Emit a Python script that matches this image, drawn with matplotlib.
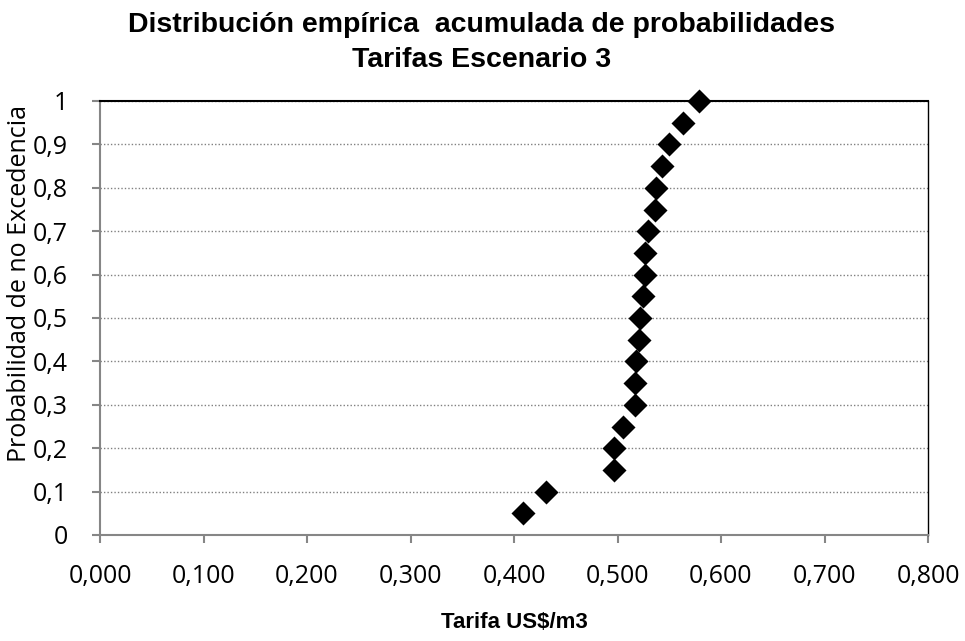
import matplotlib.pyplot as plt
from matplotlib.ticker import FuncFormatter

# Tarifas (US$/m3) y probabilidad de no excedencia
tarifa = [0.409, 0.431, 0.497, 0.497, 0.505, 0.517, 0.517, 0.518, 0.521, 0.522,
          0.525, 0.527, 0.527, 0.529, 0.536, 0.537, 0.543, 0.550, 0.563, 0.579]
prob = [0.05, 0.10, 0.15, 0.20, 0.25, 0.30, 0.35, 0.40, 0.45, 0.50,
        0.55, 0.60, 0.65, 0.70, 0.75, 0.80, 0.85, 0.90, 0.95, 1.00]

x_ticks = [0.0, 0.1, 0.2, 0.3, 0.4, 0.5, 0.6, 0.7, 0.8]
y_ticks = [0, 0.1, 0.2, 0.3, 0.4, 0.5, 0.6, 0.7, 0.8, 0.9, 1.0]

W, H = 965, 641
fig = plt.figure(figsize=(W / 100, H / 100), dpi=100)
ax = fig.add_axes([100 / W, 1 - 535 / H, 828 / W, 434 / H])

ax.scatter(tarifa, prob, marker="D", s=150, color="black", zorder=5,
           linewidths=0, clip_on=False)

ax.set_xlim(0, 0.8)
ax.set_ylim(0, 1)
ax.set_xticks(x_ticks)
ax.set_yticks(y_ticks)
ax.xaxis.set_major_formatter(FuncFormatter(lambda v, p: f"{v:.3f}".replace(".", ",")))
ax.yaxis.set_major_formatter(FuncFormatter(lambda v, p: f"{v:g}".replace(".", ",")))

ax.grid(axis="y", linestyle=(0, (1, 1.5)), color="#808080", linewidth=1)
ax.set_axisbelow(True)

for s in ["left", "bottom"]:
    ax.spines[s].set_color("#868686")
    ax.spines[s].set_linewidth(1.5)
ax.spines["top"].set_color("black")
ax.spines["top"].set_linewidth(1.5)
ax.spines["right"].set_color("black")
ax.spines["right"].set_linewidth(1)

ax.tick_params(axis="both", direction="out", length=6, width=1.5, color="#868686",
               labelsize=18)
ax.tick_params(axis="x", pad=15)
ax.tick_params(axis="y", pad=17)
for lab in ax.get_xticklabels() + ax.get_yticklabels():
    lab.set_family("Open Sans")

# titulos de ejes (posicion como en el grafico de Excel)
fig.text(514 / W, 1 - 623 / H, "Tarifa US$/m3", fontsize=16, fontweight="bold",
         family="Liberation Sans", ha="center", va="center")
fig.text(20 / W, 1 - 283 / H, "Probabilidad de no Excedencia", fontsize=18,
         family="Open Sans", rotation=90, ha="center", va="center")

fig.text(482 / W, 1 - 32 / H, "Distribución empírica  acumulada de probabilidades",
         fontsize=20.5, fontweight="bold", family="Liberation Sans",
         ha="center", va="baseline")
fig.text(482 / W, 1 - 67 / H, "Tarifas Escenario 3",
         fontsize=20.5, fontweight="bold", family="Liberation Sans",
         ha="center", va="baseline")

fig.savefig("out.png", dpi=100)
